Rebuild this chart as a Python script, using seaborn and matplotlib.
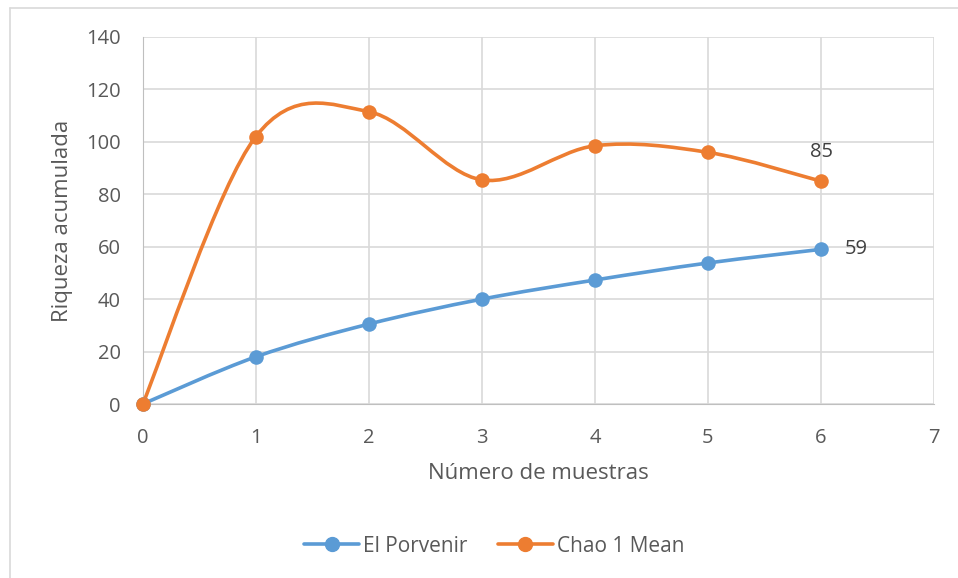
import numpy as np
import matplotlib
matplotlib.use("Agg")
import matplotlib.pyplot as plt
from matplotlib.path import Path
from matplotlib.patches import PathPatch
from matplotlib.lines import Line2D
import seaborn as sns

# ==============================
# Data
# ==============================
muestras = [0, 1, 2, 3, 4, 5, 6]
el_porvenir = [0, 18, 30.5, 40, 47.3, 53.8, 59]
chao1_mean = [0, 102, 111.5, 85.5, 98.5, 96, 85]
series_names = ["El Porvenir", "Chao 1 Mean"]
series_colors = ["#5B9BD5", "#ED7D31"]

# ==============================
# Style
# ==============================
sns.set_style("white")
plt.rcParams['font.family'] = ['Open Sans', 'DejaVu Sans']
text_color = "#595959"
grid_color = "#D9D9D9"


def smooth_path(xs, ys):
    # Excel-like smoothed line: cubic Bezier segments (Catmull-Rom control points)
    pts = np.column_stack([xs, ys]).astype(float)
    n = len(pts)
    verts = [pts[0]]
    codes = [Path.MOVETO]
    for i in range(n - 1):
        p0 = pts[i - 1] if i > 0 else pts[i]
        p1 = pts[i]
        p2 = pts[i + 1]
        p3 = pts[i + 2] if i + 2 < n else pts[i + 1]
        c1 = p1 + (p2 - p0) / 6.0
        c2 = p2 - (p3 - p1) / 6.0
        verts += [c1, c2, p2]
        codes += [Path.CURVE4] * 3
    return Path(verts, codes)


fig = plt.figure(figsize=(9.58, 5.78), dpi=100)
ax = fig.add_axes([0.149, 0.301, 0.826, 0.635])

for vals, name, col in zip([el_porvenir, chao1_mean], series_names, series_colors):
    ax.add_patch(PathPatch(smooth_path(muestras, vals), facecolor="none",
                           edgecolor=col, lw=2.6, capstyle="round", zorder=3))
    sns.scatterplot(x=muestras, y=vals, ax=ax, color=col, s=110,
                    edgecolor=col, linewidth=0, zorder=4, legend=False,
                    clip_on=False)

# last value labels
ax.annotate(f"{el_porvenir[-1]:.0f}", (muestras[-1], el_porvenir[-1]),
            xytext=(17, 0), textcoords="offset points", va="center", ha="left",
            fontsize=14.5, color="#404040")
ax.annotate(f"{chao1_mean[-1]:.0f}", (muestras[-1], chao1_mean[-1]),
            xytext=(0, 21), textcoords="offset points", va="center", ha="center",
            fontsize=14.5, color="#404040")

ax.set_xlim(0, 7)
ax.set_ylim(0, 140)
ax.set_xticks(range(0, 8))
ax.set_yticks(range(0, 141, 20))
ax.grid(True, color=grid_color, lw=1.2)
ax.set_axisbelow(True)
for s in ax.spines.values():
    s.set_visible(False)
ax.spines['bottom'].set_visible(True)
ax.spines['left'].set_visible(True)
ax.spines['bottom'].set_color("#BFBFBF")
ax.spines['left'].set_color("#BFBFBF")
ax.tick_params(axis="both", length=0, labelsize=14.5, labelcolor=text_color)
ax.tick_params(axis="x", pad=17)
ax.tick_params(axis="y", pad=16)

ax.set_xlabel("Número de muestras", fontsize=16, color=text_color, labelpad=11)
ax.set_ylabel("Riqueza acumulada", fontsize=16, color=text_color, labelpad=9)

handles = [Line2D([0], [0], color=c, lw=2.6, marker="o", markersize=10)
           for c in series_colors]
fig.legend(handles, series_names, loc="center", bbox_to_anchor=(0.516, 0.055),
           ncol=2, frameon=False, fontsize=15, labelcolor=text_color,
           handlelength=2.6, columnspacing=1.5, handletextpad=0.2)

# chart border (left and top visible)
fig.add_artist(Line2D([10 / 958, 10 / 958], [0, 1 - 8 / 578], color=grid_color,
                      lw=1.2, transform=fig.transFigure))
fig.add_artist(Line2D([10 / 958, 1], [1 - 8 / 578, 1 - 8 / 578], color=grid_color,
                      lw=1.2, transform=fig.transFigure))

fig.savefig("out.png", dpi=100)
